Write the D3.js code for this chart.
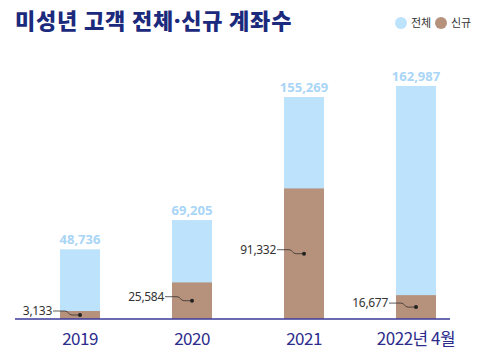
<!DOCTYPE html>
<html>
<head>
<meta charset="utf-8">
<script src="https://cdn.jsdelivr.net/npm/d3@7"></script>
<style>
  body { margin: 0; background: #fff; }
  svg { display: block; font-family: 'Noto Sans CJK KR', 'Noto Sans', sans-serif; }
</style>
</head>
<body>
<svg id="chart" width="485" height="360"></svg>
<script>
'use strict'
const years = ['2019', '2020', '2021', '2022년 4월']
const totals = [48736, 69205, 155269, 162987]
const newAccounts = [3133, 25584, 91332, 16677]
const legendLabels = ['전체', '신규']

const colors = { total: '#bde2fb', fresh: '#b6917b', navy: '#1b2a7c', axis: '#3a3a9a' }

const svg = d3.select('#chart')
const baseline = 319

const x = d3.scalePoint().domain(years).range([80, 416])
const y = d3.scaleLinear().domain([0, d3.max(totals)]).range([baseline, 86])
const barW = 40

// title (the middle dot is drawn in a latin font so it stays narrow)
const title = svg.append('text')
  .attr('x', 15).attr('y', 29)
  .attr('font-size', 22).attr('font-weight', 900)
  .attr('letter-spacing', 0.8)
  .attr('fill', colors.navy)
title.append('tspan').text('미성년 고객 전체')
title.append('tspan').attr('font-family', 'Noto Sans, sans-serif').text('·')
title.append('tspan').text('신규 계좌수')

// legend
const legend = svg.append('g').attr('transform', 'translate(401,23)')
legendLabels.forEach((lab, i) => {
  const g = legend.append('g').attr('transform', `translate(${i * 40},0)`)
  g.append('circle').attr('r', 6).attr('fill', i == 0 ? colors.total : colors.fresh)
  g.append('text').attr('x', 10).attr('y', 4).attr('font-size', 11).attr('fill', '#333').text(lab)
})

const data = years.map((yr, i) => ({ year: yr, total: totals[i], fresh: newAccounts[i] }))

// total bars
svg.selectAll('.bar-total').data(data).enter().append('rect')
  .attr('class', 'bar-total')
  .attr('x', d => x(d.year) - barW / 2)
  .attr('y', d => y(d.total))
  .attr('width', barW)
  .attr('height', d => baseline - y(d.total))
  .attr('fill', colors.total)

// new bars
svg.selectAll('.bar-new').data(data).enter().append('rect')
  .attr('class', 'bar-new')
  .attr('x', d => x(d.year) - barW / 2)
  .attr('y', d => Math.min(y(d.fresh), baseline - 8))
  .attr('width', barW)
  .attr('height', d => Math.max(baseline - y(d.fresh), 8))
  .attr('fill', colors.fresh)

// total labels
svg.selectAll('.lab-total').data(data).enter().append('text')
  .attr('x', d => x(d.year))
  .attr('y', d => y(d.total) - 5)
  .attr('text-anchor', 'middle')
  .attr('font-family', 'Noto Sans, sans-serif')
  .attr('font-size', 13).attr('font-weight', 700)
  .attr('fill', '#a9d5f6')
  .text(d => d3.format(',')(d.total))

// new labels with connector
data.forEach(d => {
  const cx = x(d.year)
  const top = Math.min(y(d.fresh), baseline - 8)
  const dotY = (top + baseline) / 2
  const lineY = dotY - 4
  const tx = cx - 28
  const p = d3.path()
  p.moveTo(tx + 1, lineY)
  p.lineTo(cx - 15, lineY)
  p.bezierCurveTo(cx - 11, lineY, cx - 12, dotY, cx - 8, dotY)
  p.lineTo(cx, dotY)
  svg.append('path').attr('d', p.toString())
    .attr('fill', 'none').attr('stroke', '#333').attr('stroke-width', 0.8)
  svg.append('circle').attr('cx', cx).attr('cy', dotY).attr('r', 2).attr('fill', '#222')
  svg.append('text')
    .attr('x', tx).attr('y', lineY + 4)
    .attr('text-anchor', 'end')
    .attr('font-family', 'Noto Sans, sans-serif')
    .attr('font-size', 12).attr('letter-spacing', -0.3)
    .attr('fill', '#333')
    .text(d3.format(',')(d.fresh))
})

// baseline
svg.append('line')
  .attr('x1', 15).attr('x2', 450)
  .attr('y1', baseline).attr('y2', baseline)
  .attr('stroke', colors.axis).attr('stroke-width', 1.5)

// year labels
svg.selectAll('.lab-year').data(data).enter().append('text')
  .attr('x', d => x(d.year))
  .attr('y', 345)
  .attr('text-anchor', 'middle')
  .attr('font-size', 17).attr('font-weight', 400)
  .attr('letter-spacing', -0.5)
  .attr('fill', '#2b2c8c')
  .text(d => d.year)
</script>
</body>
</html>
